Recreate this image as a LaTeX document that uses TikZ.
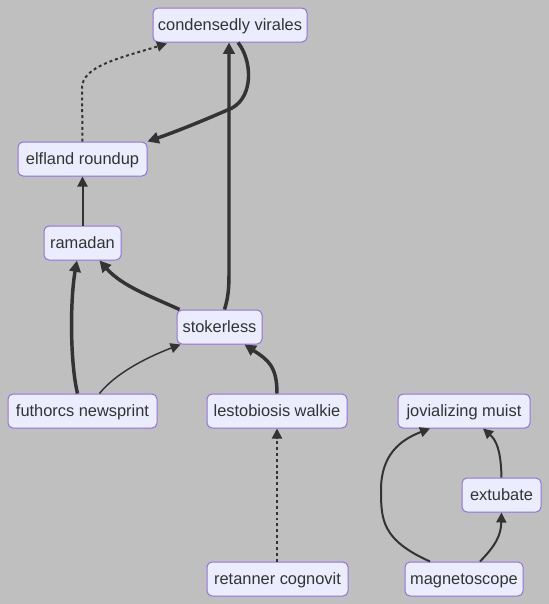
\documentclass[tikz,border=0pt]{standalone}
\usepackage{fontspec}
\setmainfont{Liberation Sans}
\usetikzlibrary{arrows.meta,calc}
\definecolor{bg}{HTML}{BFBFBF}
\definecolor{nodefill}{HTML}{ECECFF}
\definecolor{nodeborder}{HTML}{9370DB}
\definecolor{ink}{HTML}{333333}
\tikzset{
  box/.style={draw=nodeborder, fill=nodefill, line width=0.75pt, rounded corners=3.75pt,
    inner sep=0pt, minimum height=25.5pt, text height=9.5pt, text depth=1.5pt, text=ink,
    font=\fontsize{12.3}{14}\selectfont},
  edge/.style={draw=ink, line width=1.5pt, -{Triangle[length=7.5pt,width=7.5pt]}},
  thickedge/.style={draw=ink, line width=2.6pt, -{Triangle[length=8.5pt,width=8.5pt]}},
  thinedge/.style={edge, line width=1.1pt},
  dotedge/.style={edge, dash pattern=on 2.2pt off 2.2pt}
}
\begin{document}
\begin{tikzpicture}[x=0.75pt,y=-0.75pt]
\fill[bg] (0,0) rectangle (549,604);
\useasboundingbox (0,0) rectangle (549,604);
\node[box, minimum width=115.5pt] (cond) at (230,25) {condensedly virales};
\node[box, minimum width=96.75pt] (elf) at (82.5,159) {elfland roundup};
\node[box, minimum width=57.75pt] (ram) at (82.5,243) {ramadan};
\node[box, minimum width=63.75pt] (stok) at (219.5,327) {stokerless};
\node[box, minimum width=111.75pt] (futh) at (82.5,411) {futhorcs newsprint};
\node[box, minimum width=105pt] (lest) at (277,411) {lestobiosis walkie};
\node[box, minimum width=99pt] (jov) at (464,411) {jovializing muist};
\node[box, minimum width=59.25pt] (ext) at (501.5,495) {extubate};
\node[box, minimum width=105.75pt] (ret) at (277.5,579) {retanner cognovit};
\node[box, minimum width=88.5pt] (mag) at (464,579) {magnetoscope};

% elfland -> condensedly (dotted)
\draw[dotedge] (elf.north) -- (82,88) .. controls (82,66) and (120,58) .. ($(cond.south)+(-63,1)$);
% condensedly -> elfland
\draw[thickedge] ($(cond.south)+(8,0)$) .. controls (252,60) and (254,96) .. (232,108)
  .. controls (205,120) and (175,132) .. ($(elf.north east)+(0,0)$);
% stokerless -> condensedly
\draw[thickedge] ($(stok.north)+(5,0)$) .. controls (228,298) and (229,290) .. (229,272) -- ($(cond.south)+(-1,0)$);
% ramadan -> elfland
\draw[edge] (ram.north) -- (elf.south);
% stokerless -> ramadan
\draw[thickedge] ($(stok.north west)+(3,0)$) .. controls (150,296) and (122,286) .. ($(ram.south)+(17,0)$);
% futhorcs -> ramadan
\draw[thickedge] ($(futh.north)+(-5,0)$) .. controls (70,362) and (70,300) .. ($(ram.south)+(-5.5,0)$);
% futhorcs -> stokerless
\draw[thinedge] ($(futh.north)+(17,0)$) .. controls (115,374) and (145,358) .. ($(stok.south west)+(4,0)$);
% lestobiosis -> stokerless
\draw[thickedge] (lest.north) .. controls (277,366) and (268,360) .. ($(stok.south)+(25,0)$);
% retanner -> lestobiosis (dotted)
\draw[dotedge] ($(ret.north)+(-0.5,0)$) -- (lest.south);
% magnetoscope -> jovializing
\draw[edge] ($(mag.north)+(-34,0)$) .. controls (382,540) and (381,520) .. (381,490)
  .. controls (381,455) and (400,440) .. ($(jov.south)+(-34,0)$);
% magnetoscope -> extubate
\draw[edge] ($(mag.north)+(16,0)$) .. controls (495,546) and (501,536) .. (ext.south);
% extubate -> jovializing
\draw[edge] (ext.north) .. controls (501,450) and (496,440) .. ($(jov.south)+(19,0)$);
\end{tikzpicture}
\end{document}
